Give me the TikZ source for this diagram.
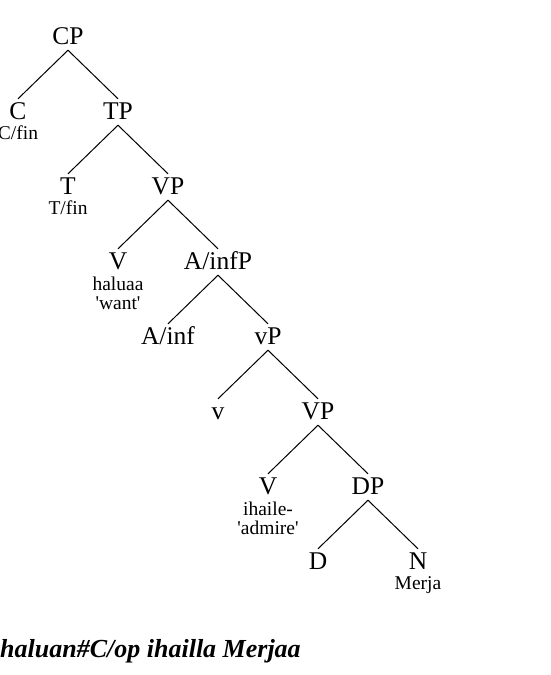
\documentclass[tikz,border=0pt]{standalone}
\usepackage{fontspec}
\setmainfont{Liberation Serif}
\usetikzlibrary{positioning}
\tikzset {
  % syntactic category label
  cat/.style = {
    font = \fontsize{25.5}{26}\selectfont,
    text height = 20pt,
    text depth = 6pt,
    inner sep = 0pt
  },
  % lexical material under a head
  gloss/.style = {
    font = \fontsize{19.5}{19}\selectfont,
    align = center,
    inner sep = 0pt
  },
  branch/.style = {
    draw = black,
    line width = 1pt
  },
  node distance = 75pt and 50pt
}

\begin{document}
\begin{tikzpicture}[x=1pt, y=-1pt, on grid]
    \useasboundingbox (0,0) rectangle (550,675);

    \node[cat] (cp) at (68,37) {CP};
    \node[cat] (c) [below left=of cp] {C};
    \node[cat] (tp) [below right=of cp] {TP};
    \node[cat] (t) [below left=of tp] {T};
    \node[cat] (vp1) [below right=of tp] {VP};
    \node[cat] (v1) [below left=of vp1] {V};
    \node[cat] (infp) [below right=of vp1] {A/infP};
    \node[cat] (inf) [below left=of infp] {A/inf};
    \node[cat] (lvp) [below right=of infp] {vP};
    \node[cat] (lv) [below left=of lvp] {v};
    \node[cat] (vp2) [below right=of lvp] {VP};
    \node[cat] (v2) [below left=of vp2] {V};
    \node[cat] (dp) [below right=of vp2] {DP};
    \node[cat] (d) [below left=of dp] {D};
    \node[cat] (n) [below right=of dp] {N};

    % glosses (base is the last line)
    \node[gloss, anchor=base] (cfin) at ([yshift=-20pt]c.base) {C/fin};
    \node[gloss, anchor=base] (tfin) at ([yshift=-20pt]t.base) {T/fin};
    \node[gloss, anchor=base] (want) at ([yshift=-40pt]v1.base)
      {haluaa\\\textquotesingle want\textquotesingle};
    \node[gloss, anchor=base] (admire) at ([yshift=-40pt]v2.base)
      {ihaile-\\\textquotesingle admire\textquotesingle};
    \node[gloss, anchor=base] (merja) at ([yshift=-20pt]n.base) {Merja};

    \draw[branch] (cp.south) -- (c.north);
    \draw[branch] (cp.south) -- (tp.north);
    \draw[branch] (tp.south) -- (t.north);
    \draw[branch] (tp.south) -- (vp1.north);
    \draw[branch] (vp1.south) -- (v1.north);
    \draw[branch] (vp1.south) -- (infp.north);
    \draw[branch] (infp.south) -- (inf.north);
    \draw[branch] (infp.south) -- (lvp.north);
    \draw[branch] (lvp.south) -- (lv.north);
    \draw[branch] (lvp.south) -- (vp2.north);
    \draw[branch] (vp2.south) -- (v2.north);
    \draw[branch] (vp2.south) -- (dp.north);
    \draw[branch] (dp.south) -- (d.north);
    \draw[branch] (dp.south) -- (n.north);

    \node[anchor=base west, inner sep=0pt,
      font=\fontsize{26}{27}\selectfont\bfseries\itshape]
      (surface) at (0,657) {haluan\#C/op ihailla Merjaa};
\end{tikzpicture}
\end{document}
